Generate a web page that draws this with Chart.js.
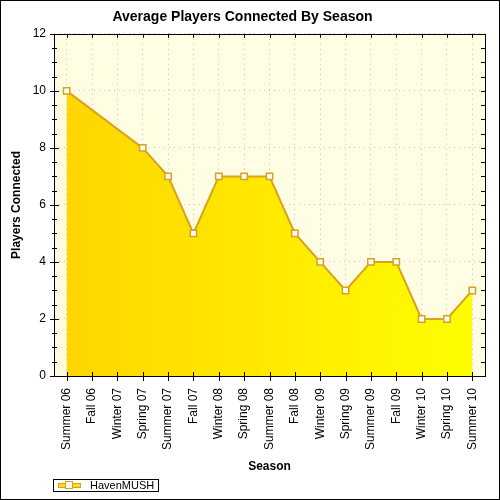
<!DOCTYPE html>
<html>
<head>
<meta charset="utf-8">
<script src="https://cdn.jsdelivr.net/npm/chart.js@4.4.1/dist/chart.umd.min.js"></script>
<style>
  html, body { margin: 0; padding: 0; background: #fff; }
  #wrap { width: 500px; height: 500px; }
</style>
</head>
<body>
<div id="wrap"><canvas id="playersChart" width="500" height="500"></canvas></div>
<script>
// Chart data
const seasons = ['Summer 06', 'Fall 06', 'Winter 07', 'Spring 07', 'Summer 07', 'Fall 07',
    'Winter 08', 'Spring 08', 'Summer 08', 'Fall 08', 'Winter 09', 'Spring 09',
    'Summer 09', 'Fall 09', 'Winter 10', 'Spring 10', 'Summer 10'];
const players = [10, null, null, 8, 7, 5, 7, 7, 7, 5, 4, 3, 4, 4, 2, 2, 3];
const yTicks = [0, 2, 4, 6, 8, 10, 12];
const seriesName = 'HavenMUSH';

const FONT = 'Arial, "Liberation Sans", sans-serif';
const lineColor = '#D9A21C';

function fillGradient(context) {
    const area = context.chart.chartArea;
    if (!area) return '#FFE400';
    const g = context.chart.ctx.createLinearGradient(area.left, 0, area.right, 0);
    g.addColorStop(0, '#FFD400');
    g.addColorStop(1, '#FFFF00');
    return g;
}

// background, frame, inner ticks, legend and outer border
const decorPlugin = {
    id: 'decor',
    beforeDraw(chart) {
        const { ctx, chartArea: a } = chart;
        ctx.save();
        const g = ctx.createLinearGradient(a.left, a.bottom, a.right, a.top);
        g.addColorStop(0, '#FFFBE0');
        g.addColorStop(1, '#FFFFE6');
        ctx.fillStyle = g;
        ctx.fillRect(a.left, a.top, a.right - a.left, a.bottom - a.top);
        ctx.restore();
    },
    afterDraw(chart) {
        const { ctx, chartArea: a, scales } = chart;
        const x = scales.x, y = scales.y;
        ctx.save();
        ctx.strokeStyle = '#000';
        ctx.lineWidth = 1;
        ctx.strokeRect(Math.round(a.left) + 0.5, Math.round(a.top) + 0.5,
            Math.round(a.right - a.left), Math.round(a.bottom - a.top));

        ctx.beginPath();
        // y ticks: major and minor, crossing the left axis; inward ticks on the right
        for (let v = 0; v <= 12; v += 0.5) {
            const py = Math.round(y.getPixelForValue(v)) + 0.5;
            const major = yTicks.includes(v);
            const l = major ? 4 : 2;
            ctx.moveTo(a.left - l, py);
            ctx.lineTo(a.left + l + 1, py);
            ctx.moveTo(a.right, py);
            ctx.lineTo(a.right - 4, py);
        }
        // x ticks crossing the bottom axis; inward ticks on the top
        seasons.forEach((s, i) => {
            const px = Math.round(x.getPixelForValue(i)) + 0.5;
            ctx.moveTo(px, a.bottom - 4);
            ctx.lineTo(px, a.bottom + 5);
            ctx.moveTo(px, a.top);
            ctx.lineTo(px, a.top + 4);
        });
        ctx.stroke();

        // legend
        ctx.fillStyle = '#fff';
        ctx.fillRect(53.5, 479.5, 105, 12);
        ctx.strokeRect(53.5, 479.5, 105, 12);
        ctx.fillStyle = '#FFE000';
        ctx.fillRect(58, 483, 23, 5);
        ctx.strokeStyle = lineColor;
        ctx.lineWidth = 1;
        ctx.strokeRect(58.5, 483.5, 22, 4);
        ctx.fillStyle = '#fff';
        ctx.fillRect(65.5, 481.5, 7, 7);
        ctx.strokeRect(65.5, 481.5, 7, 7);
        ctx.fillStyle = '#000';
        ctx.font = '11px ' + FONT;
        ctx.textBaseline = 'middle';
        ctx.textAlign = 'left';
        ctx.fillText(seriesName, 90, 486);

        // outer border
        ctx.strokeStyle = '#000';
        ctx.strokeRect(0.5, 0.5, 499, 499);
        ctx.restore();
    }
};

const ctx = document.getElementById('playersChart').getContext('2d');
new Chart(ctx, {
    type: 'line',
    data: {
        labels: seasons,
        datasets: [{
            label: seriesName,
            data: players,
            borderColor: lineColor,
            borderWidth: 2,
            backgroundColor: fillGradient,
            fill: 'origin',
            tension: 0,
            spanGaps: true,
            segment: {
                // no line across missing seasons, only the fill
                borderColor: c => (c.p1DataIndex - c.p0DataIndex > 1 ? 'rgba(0,0,0,0)' : lineColor)
            },
            pointStyle: 'rect',
            pointRadius: 4.5,
            pointHoverRadius: 4.5,
            pointBackgroundColor: '#fff',
            pointBorderColor: lineColor,
            pointBorderWidth: 1.5
        }]
    },
    options: {
        responsive: false,
        animation: false,
        devicePixelRatio: 1,
        layout: { padding: { left: 0, right: 15, top: 0, bottom: 24 } },
        plugins: {
            legend: { display: false },
            tooltip: { enabled: false },
            title: {
                display: true,
                text: 'Average Players Connected By Season',
                color: '#000',
                font: { family: FONT, size: 14, weight: 'bold' },
                padding: { top: 9, bottom: 8 }
            }
        },
        scales: {
            x: {
                offset: true,
                afterFit: s => { s.height = 100; },
                grid: {
                    color: '#C4C4C4',
                    drawTicks: false
                },
                border: { display: false, dash: [1, 4] },
                ticks: {
                    color: '#000',
                    font: { family: FONT, size: 12 },
                    minRotation: 90,
                    maxRotation: 90,
                    autoSkip: false,
                    padding: 12
                },
                title: {
                    display: true,
                    text: 'Season',
                    color: '#000',
                    font: { family: FONT, size: 12, weight: 'bold' },
                    padding: { top: 4, bottom: 2 }
                }
            },
            y: {
                min: 0,
                max: 12,
                afterFit: s => { s.width = 54; },
                afterBuildTicks: s => { s.ticks = yTicks.map(v => ({ value: v })); },
                grid: {
                    color: '#C4C4C4',
                    drawTicks: false
                },
                border: { display: false, dash: [1, 4] },
                ticks: {
                    color: '#000',
                    font: { family: FONT, size: 12 },
                    padding: 8
                },
                title: {
                    display: true,
                    text: 'Players Connected',
                    color: '#000',
                    font: { family: FONT, size: 12, weight: 'bold' },
                    padding: { top: 9, bottom: 4 }
                }
            }
        }
    },
    plugins: [decorPlugin]
});
</script>
</body>
</html>
